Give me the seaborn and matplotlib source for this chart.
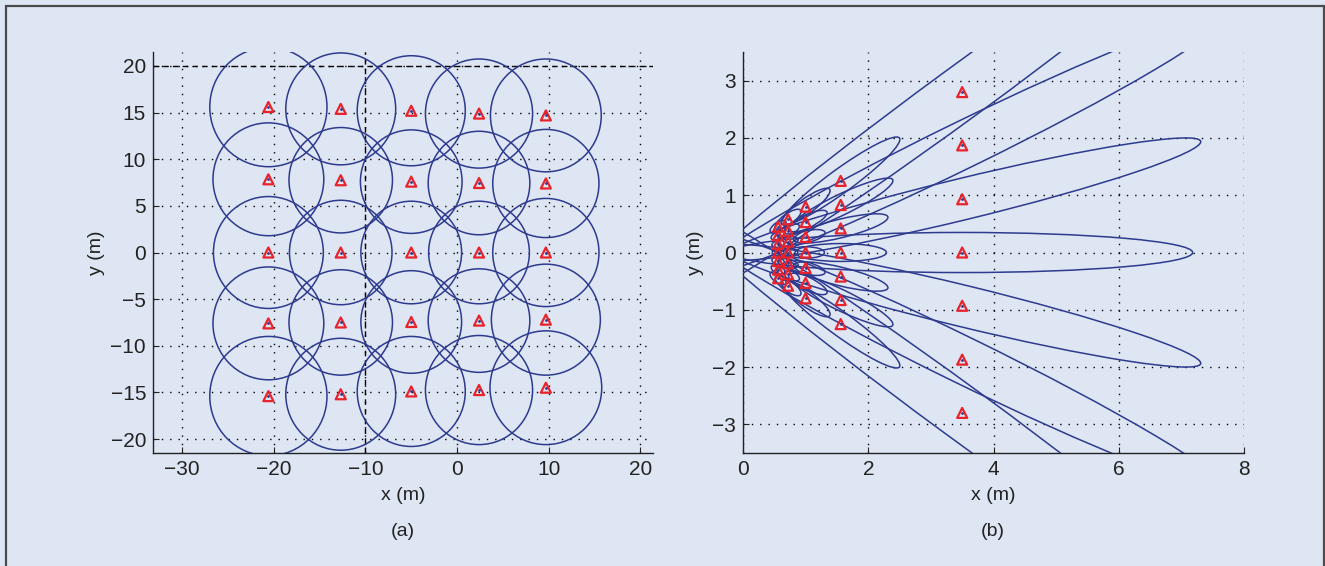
import numpy as np
import pandas as pd
import matplotlib
matplotlib.use("Agg")
import matplotlib.pyplot as plt
import seaborn as sns
from matplotlib.patches import Circle, Ellipse, Rectangle

# (a) sensor grid: triangle positions and circle radii
LEFT_COL_X = [-20.6, -12.7, -5.0, 2.4, 9.7]
LEFT_ROW_Y = [
    [15.6, 15.4, 15.2, 14.9, 14.7],
    [7.85, 7.75, 7.6, 7.45, 7.4],
    [0.0, 0.0, 0.0, 0.0, 0.0],
    [-7.6, -7.5, -7.45, -7.3, -7.2],
    [-15.4, -15.2, -14.9, -14.75, -14.5],
]
LEFT_RADIUS = [
    [6.4, 6.0, 5.9, 5.85, 6.05],
    [6.05, 5.65, 5.55, 5.55, 5.8],
    [6.0, 5.6, 5.5, 5.5, 5.8],
    [6.05, 5.65, 5.5, 5.55, 5.95],
    [6.4, 6.0, 5.9, 5.85, 6.1],
]
BOUNDARY_X = -10
BOUNDARY_Y = 20

# (b) range/bearing view: triangle positions and ellipse semi-axes
RIGHT_COL_X = [0.56, 0.72, 1.0, 1.56, 3.5]
RIGHT_ROW_Y = [
    [0.45, 0.30, 0.15, 0.0, -0.15, -0.30, -0.45],
    [0.58, 0.38, 0.19, 0.0, -0.19, -0.38, -0.58],
    [0.80, 0.53, 0.27, 0.0, -0.27, -0.53, -0.80],
    [1.25, 0.83, 0.42, 0.0, -0.42, -0.83, -1.25],
    [2.80, 1.87, 0.93, 0.0, -0.93, -1.87, -2.80],
]
RIGHT_MAJOR = [
    [0.154, 0.121, 0.101, 0.094, 0.101, 0.121, 0.154],
    [0.255, 0.200, 0.166, 0.155, 0.166, 0.200, 0.255],
    [0.49, 0.385, 0.32, 0.30, 0.32, 0.385, 0.49],
    [1.20, 0.94, 0.78, 0.73, 0.78, 0.94, 1.20],
    [6.03, 4.72, 3.94, 3.68, 3.94, 4.72, 6.03],
]
RIGHT_MINOR = [
    [0.072, 0.063, 0.058, 0.056, 0.058, 0.063, 0.072],
    [0.092, 0.082, 0.075, 0.072, 0.075, 0.082, 0.092],
    [0.128, 0.113, 0.104, 0.10, 0.104, 0.113, 0.128],
    [0.20, 0.177, 0.161, 0.156, 0.161, 0.177, 0.20],
    [0.45, 0.40, 0.36, 0.35, 0.36, 0.40, 0.45],
]

BG = "#dfe6f3"
LINE = "#2d3a8e"
RED = "#e8232c"
TXT = "#222222"

sns.set_theme(style="ticks")
plt.rcParams["font.family"] = ["Liberation Sans", "DejaVu Sans"]

W, H = 1325, 566
fig = plt.figure(figsize=(W / 100, H / 100), dpi=100, facecolor=BG)
ax1 = fig.add_axes([153 / W, 1 - 453 / H, 500 / W, 401 / H])
ax2 = fig.add_axes([743 / W, 1 - 453 / H, 501 / W, 401 / H])


def style_axes(ax, xticks, yticks):
    ax.set_facecolor(BG)
    ax.set_xticks(xticks)
    ax.set_yticks(yticks)
    ax.grid(True, color="black", linewidth=1.0, linestyle=(0, (1, 5)))
    ax.set_axisbelow(True)
    for side in ["top", "right"]:
        ax.spines[side].set_visible(False)
    for side in ["left", "bottom"]:
        ax.spines[side].set_color("#222222")
        ax.spines[side].set_linewidth(1.0)
    ax.tick_params(direction="in", length=4, width=0.8, labelsize=15,
                   colors=TXT, pad=5)


def draw_points(ax, xs, ys):
    df = pd.DataFrame({"x": xs, "y": ys})
    sns.scatterplot(data=df, x="x", y="y", marker="^", s=52, color=RED,
                    edgecolor=RED, linewidth=1.6, ax=ax, zorder=4)
    ax.collections[-1].set_facecolor("none")
    sns.scatterplot(data=df, x="x", y="y", marker="o", s=4, color=LINE,
                    linewidth=0, ax=ax, zorder=5)


# ---- (a)
lx, ly = [], []
for i, row in enumerate(LEFT_ROW_Y):
    for j, yv in enumerate(row):
        xv = LEFT_COL_X[j]
        lx.append(xv)
        ly.append(yv)
        ax1.add_patch(Circle((xv, yv), LEFT_RADIUS[i][j], fill=False,
                             edgecolor=LINE, linewidth=1.1, zorder=3))
draw_points(ax1, lx, ly)
ax1.axhline(BOUNDARY_Y, color="black", linewidth=1.0, linestyle=(0, (4, 3)), zorder=2)
ax1.axvline(BOUNDARY_X, color="black", linewidth=1.0, linestyle=(0, (4, 3)), zorder=2)
style_axes(ax1, np.arange(-30, 21, 10), np.arange(-20, 21, 5))
ax1.set_xlim(-33.2, 21.4)
ax1.set_ylim(-21.5, 21.5)
ax1.set_xlabel("x (m)", fontsize=14, color=TXT, labelpad=6)
ax1.set_ylabel("y (m)", fontsize=14, color=TXT, labelpad=4)

# ---- (b)
rx, ry = [], []
for i, col in enumerate(RIGHT_ROW_Y):
    for k, yv in enumerate(col):
        xv = RIGHT_COL_X[i]
        rx.append(xv)
        ry.append(yv)
        ang = np.degrees(np.arctan2(yv, xv))
        ax2.add_patch(Ellipse((xv, yv), 2 * RIGHT_MAJOR[i][k], 2 * RIGHT_MINOR[i][k],
                              angle=ang, fill=False, edgecolor=LINE,
                              linewidth=1.1, zorder=3))
draw_points(ax2, rx, ry)
style_axes(ax2, np.arange(0, 9, 2), np.arange(-3, 4, 1))
ax2.set_xlim(0, 8)
ax2.set_ylim(-3.5, 3.5)
ax2.set_xlabel("x (m)", fontsize=14, color=TXT, labelpad=6)
ax2.set_ylabel("y (m)", fontsize=14, color=TXT, labelpad=6)

fig.text(403 / W, 1 - 532 / H, "(a)", ha="center", va="center", fontsize=14, color=TXT)
fig.text(993 / W, 1 - 532 / H, "(b)", ha="center", va="center", fontsize=14, color=TXT)

# frame round the figure (open at the bottom)
fig.add_artist(Rectangle((6 / W, -0.05), (1318 / W), 1 - 6 / H + 0.05,
                         transform=fig.transFigure, fill=False,
                         edgecolor="#4a4a4a", linewidth=1.6))

fig.savefig("out.png", dpi=100, facecolor=BG)
